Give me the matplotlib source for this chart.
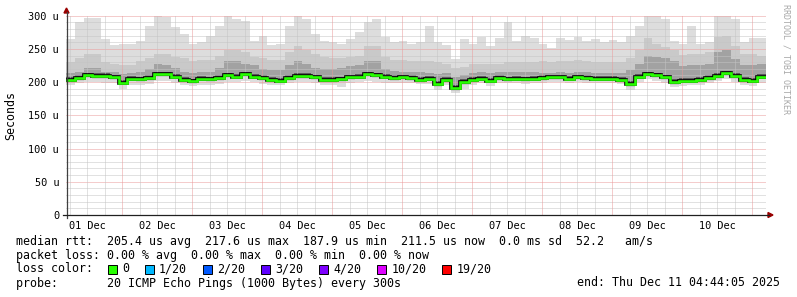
import matplotlib.pyplot as plt
import numpy as np
import pandas as pd
from matplotlib.patches import Rectangle, Polygon
import matplotlib.dates as mdates

# fin du graphe et pas de temps (3 heures par case)
end_time = pd.Timestamp("2025-12-11 04:44:05")
start_time = end_time - pd.Timedelta(days=10)

# valeurs, en microsecondes
median_rtt = [203, 206, 210, 209, 209, 207, 199, 205, 204, 206, 212, 212, 208, 203,
              201, 205, 204, 206, 210, 208, 212, 208, 206, 203, 202, 206, 209,
              209, 207, 203, 203, 204, 207, 208, 212, 210, 208, 206, 207, 206,
              203, 205, 197, 203, 191, 200, 203, 205, 202, 206, 204, 205, 204, 205,
              206, 207, 207, 205, 207, 206, 205, 205, 205, 203, 197, 208, 212, 210,
              207, 200, 202, 202, 203, 206, 209, 213, 209, 203, 202, 208]
ping_max = [265, 290, 296, 296, 265, 256, 258, 258, 262, 285, 300, 298, 283, 272,
            258, 261, 270, 285, 300, 295, 292, 262, 270, 256, 258, 285, 300,
            295, 272, 262, 260, 258, 265, 275, 290, 295, 268, 261, 262, 258,
            261, 285, 260, 256, 235, 265, 258, 268, 255, 266, 290, 262, 270, 266,
            258, 252, 266, 264, 268, 262, 265, 261, 264, 260, 270, 285, 300, 300,
            295, 262, 258, 285, 258, 260, 300, 300, 295, 260, 266, 266]
ping_q3 = [230, 236, 243, 243, 230, 228, 226, 226, 232, 236, 243, 243, 238, 236,
           232, 233, 234, 240, 248, 248, 245, 238, 236, 233, 233, 245, 255,
           248, 242, 238, 236, 236, 238, 240, 255, 255, 238, 234, 233, 232,
           232, 232, 230, 228, 222, 223, 228, 228, 228, 228, 230, 230, 230, 230,
           232, 230, 232, 232, 233, 232, 230, 230, 230, 230, 236, 248, 266, 258,
           253, 248, 241, 242, 243, 245, 268, 270, 255, 243, 243, 240]
ping_q2 = [213, 216, 222, 222, 216, 215, 212, 213, 216, 220, 228, 226, 222, 216,
           214, 215, 216, 222, 232, 232, 228, 226, 220, 218, 218, 226, 232,
           228, 222, 220, 220, 222, 225, 226, 232, 232, 220, 217, 216, 216,
           215, 214, 212, 213, 208, 210, 214, 215, 214, 215, 216, 216, 216, 215,
           214, 214, 215, 214, 215, 215, 214, 214, 214, 213, 218, 228, 240, 238,
           236, 232, 225, 226, 226, 228, 246, 248, 235, 226, 226, 228]
ping_min = [196, 198, 200, 200, 199, 198, 190, 196, 196, 197, 201, 201, 199, 196,
            194, 196, 196, 197, 200, 200, 202, 200, 197, 195, 195, 198, 200,
            200, 198, 196, 195, 193, 198, 200, 202, 200, 199, 198, 199, 198,
            197, 197, 188, 195, 184, 190, 196, 198, 194, 198, 198, 198, 197, 198,
            199, 200, 200, 199, 200, 199, 198, 198, 198, 197, 188, 200, 204, 202,
            198, 193, 194, 195, 196, 198, 202, 204, 200, 195, 194, 198]

y_ticks = [0, 50, 100, 150, 200, 250, 300]

# statistiques de la légende
rtt_avg, rtt_max, rtt_min, rtt_now, rtt_sd, rtt_ams = 205.4, 217.6, 187.9, 211.5, 0.0, 52.2
loss_avg, loss_max, loss_min, loss_now = 0.00, 0.00, 0.00, 0.00
loss_labels = ["0", "1/20", "2/20", "3/20", "4/20", "10/20", "19/20"]
loss_colors = ["#26ff00", "#00b8ff", "#0059ff", "#5e00ff", "#7e00ff", "#dd00ff", "#ff0000"]

W, H = 797, 297
MONO = "DejaVu Sans Mono"
plt.rcParams["font.family"] = MONO


def fx(px):
    return px / W


def fy(py):
    return 1 - py / H


fig = plt.figure(figsize=(W / 100, H / 100), dpi=100)
fig.patch.set_facecolor("white")
ax = fig.add_axes([fx(66), fy(215), 700 / W, (215 - 15.7) / H])

edges = mdates.date2num(pd.date_range(start_time, periods=len(median_rtt) + 1, freq="3h"))
med = np.array(median_rtt, dtype=float)


def band(lo, hi, color, z):
    lo = np.asarray(lo, dtype=float)
    hi = np.asarray(hi, dtype=float)
    ax.fill_between(edges, np.r_[lo, lo[-1]], np.r_[hi, hi[-1]], step="post",
                    color=color, lw=0, zorder=z)


# fumée (du plus clair au plus foncé)
band(ping_min, ping_max, "#dddddd", 1)
band(med - 4, ping_q3, "#c9c9c9", 2)
band(med - 3, ping_q2, "#a2a2a2", 3)
band(med - 2, med + 4, "#5a5a5a", 4)

# grille pointillée
dots = dict(lw=0.72, ls=(0, (1, 1)), zorder=5)
for v in range(10, 301, 10):
    ax.axhline(v, color="#eb9a9a" if v % 50 == 0 else "#c4c4c4", **dots)
for t in pd.date_range("2025-12-01 06:00", "2025-12-11 00:00", freq="6h"):
    ax.axvline(mdates.date2num(t), color="#eb9a9a" if t.hour == 0 else "#c4c4c4", **dots)

# médiane
ax.stairs(med, edges, baseline=None, color="black", lw=2.6, zorder=6)
ax.stairs(med, edges, baseline=None, color="#26ff00", lw=1.9, zorder=7)

ax.set_xlim(edges[0], edges[-1])
ax.set_ylim(0, 300)
for s in ax.spines.values():
    s.set_visible(False)
ax.set_facecolor("white")

ax.set_yticks(y_ticks)
ax.set_yticklabels([f"{v} u" if v else "0" for v in y_ticks])
noons = pd.date_range("2025-12-01 12:00", "2025-12-10 12:00", freq="D")
ax.set_xticks(mdates.date2num(noons))
ax.set_xticklabels([t.strftime("%d %b") for t in noons])
ax.tick_params(axis="y", length=0, pad=5, labelsize=7.35)
ax.tick_params(axis="x", length=0, pad=4, labelsize=7.35)

# axes avec flèches
fig.add_artist(plt.Line2D([fx(66.5), fx(66.5)], [fy(218), fy(12)], color="#404040", lw=0.9))
fig.add_artist(plt.Line2D([fx(63), fx(769)], [fy(215), fy(215)], color="#202020", lw=0.9))
fig.add_artist(Polygon([[fx(64), fy(13)], [fx(69), fy(13)], [fx(66.5), fy(8)]],
                       closed=True, color="#990000", transform=fig.transFigure))
fig.add_artist(Polygon([[fx(768), fy(212.5)], [fx(768), fy(217.5)], [fx(773), fy(215)]],
                       closed=True, color="#990000", transform=fig.transFigure))

fig.text(fx(11), fy(115), "Seconds", rotation=90, ha="center", va="center", fontsize=8.4)
fig.text(fx(786), fy(4), "RRDTOOL / TOBI OETIKER", rotation=270, ha="center", va="top",
         fontsize=6, color="#a8a8a8")

# légende
fs = 8.4
fig.text(fx(16), fy(241.5),
         f"median rtt:  {rtt_avg:.1f} us avg  {rtt_max:.1f} us max  {rtt_min:.1f} us min  "
         f"{rtt_now:.1f} us now  {rtt_sd:.1f} ms sd  {rtt_ams:.1f}   am/s",
         va="center", fontsize=fs)
fig.text(fx(16), fy(255.5),
         f"packet loss: {loss_avg:.2f} % avg  {loss_max:.2f} % max  {loss_min:.2f} % min  "
         f"{loss_now:.2f} % now",
         va="center", fontsize=fs)
fig.text(fx(16), fy(269), "loss color:", va="center", fontsize=fs)
bx = 108
for lab, col in zip(loss_labels, loss_colors):
    fig.add_artist(Rectangle((fx(bx), fy(273.5)), 9 / W, 9 / H, transform=fig.transFigure,
                             facecolor=col, edgecolor="black", lw=0.7))
    fig.text(fx(bx + 14), fy(269), lab, va="center", fontsize=fs)
    bx = bx + 15 + len(lab) * 7.02 + 15
fig.text(fx(16), fy(283), "probe:       20 ICMP Echo Pings (1000 Bytes) every 300s",
         va="center", fontsize=fs)
fig.text(fx(780), fy(283), "end: Thu Dec 11 04:44:05 2025", ha="right", va="center", fontsize=fs)

fig.savefig("out.png", dpi=100)
